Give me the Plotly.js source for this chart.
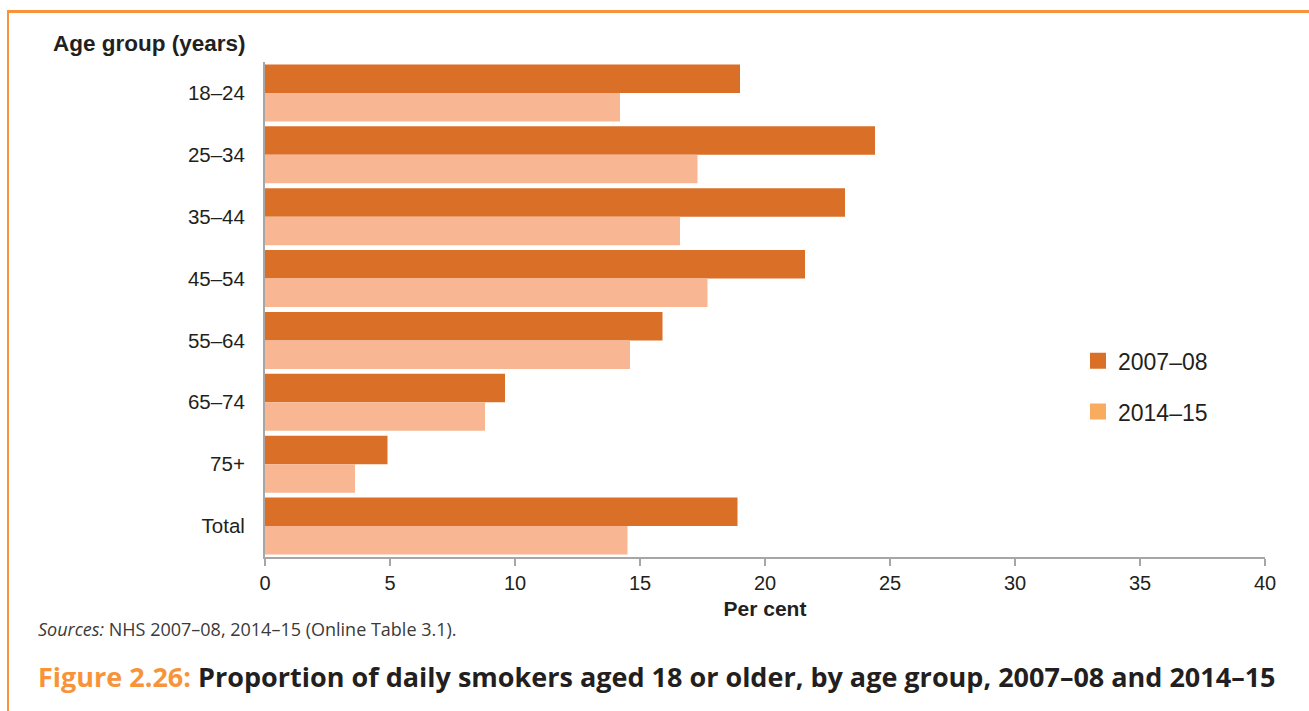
<!DOCTYPE html>
<html>
<head>
<meta charset="utf-8">
<script src="https://cdn.plot.ly/plotly-3.0.1.min.js"></script>
<style>
  html, body { margin: 0; padding: 0; background: #fff; }
  #wrap { position: relative; width: 1309px; height: 711px; overflow: hidden; }
  #frame { position: absolute; left: 7px; top: 10px; width: 1320px; height: 720px;
           border-top: 3px solid #F7943A; border-left: 2px solid #F7943A; box-sizing: border-box; }
  #chart { position: absolute; left: 0; top: 0; width: 1309px; height: 711px; }
</style>
</head>
<body>
<div id="wrap">
  <div id="frame"></div>
  <div id="chart"></div>
</div>
<script>
const categories = ["18–24", "25–34", "35–44", "45–54", "55–64", "65–74", "75+", "Total"];
const series2007 = [19.0, 24.4, 23.2, 21.6, 15.9, 9.6, 4.9, 18.9];
const series2014 = [14.2, 17.3, 16.6, 17.7, 14.6, 8.8, 3.6, 14.5];
const seriesNames = ["2007–08", "2014–15"];
const xTicks = [0, 5, 10, 15, 20, 25, 30, 35, 40];

const dark = "#DA6F27";
const light = "#F8B792";
const legendLight = "#F9AC5F";
const txt = "#231F20";
const axisGray = "#A6A6A6";

const traces = [
  { type: "bar", orientation: "h", y: categories, x: series2007, name: seriesNames[0],
    marker: { color: dark }, showlegend: false, hoverinfo: "x+y" },
  { type: "bar", orientation: "h", y: categories, x: series2014, name: seriesNames[1],
    marker: { color: light }, showlegend: false, hoverinfo: "x+y" },
  { type: "scatter", mode: "markers", x: [null], y: [null], name: seriesNames[0],
    marker: { symbol: "square", size: 16, color: dark }, legendgroup: "a" },
  { type: "scatter", mode: "markers", x: [null], y: [null], name: seriesNames[1],
    marker: { symbol: "square", size: 16, color: legendLight }, legendgroup: "b" }
];

const layout = {
  width: 1309, height: 711,
  margin: { l: 265, r: 44, t: 62, b: 154 },
  paper_bgcolor: "rgba(0,0,0,0)",
  plot_bgcolor: "rgba(0,0,0,0)",
  barmode: "group",
  bargap: 0.08,
  bargroupgap: 0,
  font: { family: "Liberation Sans, Arial, sans-serif", color: txt },
  xaxis: {
    range: [0, 40], tickvals: xTicks, ticktext: xTicks.map(String),
    showgrid: false, zeroline: false,
    showline: true, linecolor: axisGray, linewidth: 2,
    ticks: "outside", ticklen: 7, tickcolor: axisGray, tickwidth: 1.5,
    tickfont: { size: 20, color: txt },
    title: { text: "<b>Per cent</b>", font: { size: 21, color: txt }, standoff: 8 },
    fixedrange: true
  },
  yaxis: {
    type: "category", autorange: "reversed",
    showgrid: false, zeroline: false,
    showline: true, linecolor: axisGray, linewidth: 2,
    ticks: "", ticklabelstandoff: 14,
    tickfont: { size: 20.5, color: txt },
    fixedrange: true
  },
  legend: {
    x: 0.813, xanchor: "left", y: 0.44, yanchor: "top",
    font: { size: 23, color: txt },
    tracegroupgap: 18, itemwidth: 30,
    bgcolor: "rgba(0,0,0,0)"
  },
  showlegend: true,
  annotations: [
    { xref: "paper", yref: "paper", x: -0.017, y: 1.038, xanchor: "right", yanchor: "middle",
      text: "<b>Age group (years)</b>", showarrow: false, font: { size: 22.5, color: txt } },
    { xref: "paper", yref: "paper", x: -0.229, y: -0.1455, xanchor: "left", yanchor: "middle",
      text: "<i>Sources:</i> NHS 2007–08, 2014–15 (Online Table 3.1).", showarrow: false,
      font: { family: "Open Sans, Noto Sans, sans-serif", size: 18, color: "#3A3A3A" } },
    { xref: "paper", yref: "paper", x: -0.229, y: -0.2424, xanchor: "left", yanchor: "middle",
      text: "<b><span style=\"color:#F7943A\">Figure 2.26:</span> Proportion of daily smokers aged 18 or older, by age group, 2007–08 and 2014–15</b>",
      showarrow: false, font: { family: "Open Sans, Noto Sans, sans-serif", size: 27, color: txt } }
  ]
};

Plotly.newPlot("chart", traces, layout, { displayModeBar: false, staticPlot: true });
</script>
</body>
</html>
